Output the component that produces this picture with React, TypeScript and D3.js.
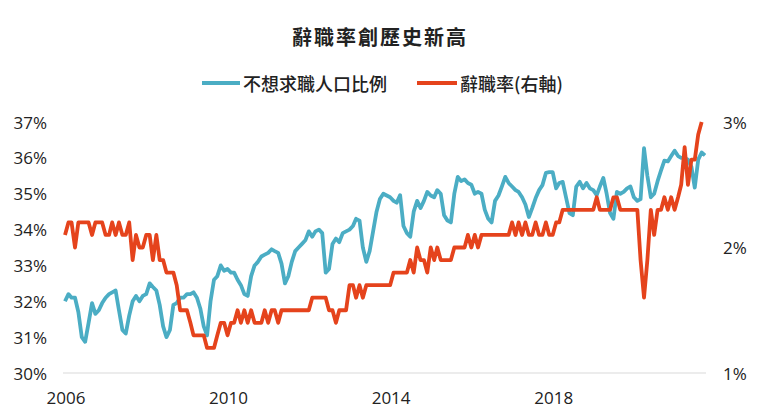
import React from "react";
import * as d3 from "d3";

// chart text
const title = "辭職率創歷史新高";
const seriesNames = ["不想求職人口比例", "辭職率(右軸)"];

// monthly values, Jan 2006 onwards
const startYear = 2006;

// share of people not wanting a job (%), left axis, Jan 2006 - Oct 2021
const notWanting = [
  32.0, 32.2, 32.1, 32.1, 31.7, 31.0, 30.87, 31.4, 31.95, 31.65, 31.75, 31.95,
  32.1, 32.2, 32.25, 32.3, 31.75, 31.2, 31.1, 31.6, 32.0, 32.15, 32.0, 32.15,
  32.2, 32.5, 32.4, 32.3, 31.9, 31.3, 31.0, 31.2, 31.9, 31.95, 32.1, 32.1,
  32.2, 32.2, 32.25, 32.1, 31.8, 31.3, 31.05, 32.0, 32.6, 32.7, 33.0, 32.85,
  32.9, 32.8, 32.8, 32.6, 32.45, 32.2, 32.15, 32.7, 33.0, 33.1, 33.25, 33.3,
  33.35, 33.45, 33.4, 33.35, 33.05, 32.5, 32.7, 33.1, 33.4, 33.5, 33.6, 33.7,
  33.95, 33.8, 33.95, 34.0, 33.9, 32.8, 32.9, 33.6, 33.75, 33.65, 33.9, 33.95,
  34.0, 34.1, 34.3, 34.25, 33.5, 33.1, 33.4, 33.95, 34.5, 34.85, 35.0, 34.95,
  34.9, 34.8, 34.75, 34.96, 34.1, 33.9, 33.8, 34.5, 34.8, 34.6, 34.8, 35.05,
  34.95, 34.9, 35.1, 35.0, 34.4, 34.25, 34.2, 35.0, 35.47, 35.35, 35.4, 35.3,
  35.25, 35.0, 35.05, 35.0, 34.55, 34.3, 34.2, 34.8, 34.95, 35.2, 35.47, 35.3,
  35.2, 35.1, 35.05, 34.9, 34.7, 34.35, 34.6, 34.88, 35.1, 35.24, 35.58, 35.6,
  35.6, 35.15, 35.3, 35.33, 34.9, 34.46, 34.4, 35.2, 35.33, 35.15, 35.3, 35.15,
  35.1, 34.96, 35.2, 35.44, 35.0, 34.46, 34.3, 35.05, 35.0, 35.05, 35.15, 35.2,
  34.9, 34.8, 34.85, 36.27, 35.5, 34.9, 35.0, 35.35, 35.65, 35.92, 35.9, 36.05,
  36.2, 36.05, 36.0, 36.0, 35.95, 35.75, 35.17, 35.95, 36.15, 36.07,
];

// quits rate (%), right axis, Jan 2006 - Sep 2021
const quitsRate = [
  2.1, 2.2, 2.2, 2.0, 2.2, 2.2, 2.2, 2.2, 2.1, 2.2, 2.2, 2.2,
  2.1, 2.1, 2.2, 2.1, 2.2, 2.1, 2.1, 2.2, 1.9, 2.1, 2.0, 2.0,
  2.1, 2.1, 1.9, 2.1, 1.9, 1.9, 1.8, 1.8, 1.8, 1.7, 1.5, 1.5,
  1.5, 1.4, 1.3, 1.3, 1.3, 1.3, 1.2, 1.2, 1.2, 1.3, 1.4, 1.4,
  1.3, 1.4, 1.4, 1.5, 1.4, 1.5, 1.4, 1.5, 1.4, 1.4, 1.4, 1.5,
  1.4, 1.5, 1.5, 1.4, 1.5, 1.5, 1.5, 1.5, 1.5, 1.5, 1.5, 1.5,
  1.5, 1.6, 1.6, 1.6, 1.6, 1.6, 1.5, 1.5, 1.4, 1.5, 1.5, 1.5,
  1.7, 1.7, 1.6, 1.7, 1.6, 1.7, 1.7, 1.7, 1.7, 1.7, 1.7, 1.7,
  1.7, 1.8, 1.8, 1.8, 1.8, 1.8, 1.9, 1.8, 2.0, 1.9, 1.9, 1.8,
  2.0, 1.9, 2.0, 1.9, 1.9, 1.9, 1.9, 2.0, 2.0, 2.0, 2.0, 2.1,
  2.0, 2.1, 2.0, 2.1, 2.1, 2.1, 2.1, 2.1, 2.1, 2.1, 2.1, 2.1,
  2.2, 2.1, 2.2, 2.1, 2.2, 2.1, 2.1, 2.2, 2.1, 2.1, 2.2, 2.1,
  2.1, 2.2, 2.2, 2.3, 2.3, 2.3, 2.3, 2.3, 2.3, 2.3, 2.3, 2.3,
  2.3, 2.4, 2.3, 2.3, 2.3, 2.3, 2.4, 2.4, 2.3, 2.3, 2.3, 2.3,
  2.3, 2.3, 1.9, 1.6, 1.9, 2.3, 2.1, 2.3, 2.3, 2.4, 2.3, 2.4,
  2.3, 2.4, 2.5, 2.8, 2.5, 2.7, 2.7, 2.9, 3.0,
];

// axis ticks
const xTickYears = [2006, 2010, 2014, 2018];
const leftTicks = [30, 31, 32, 33, 34, 35, 36, 37];
const rightTicks = [1, 2, 3];

const BLUE = "#4badc4";
const RED = "#e5431c";
const NUM_FONT = "'Open Sans', 'Noto Sans', sans-serif";
const CJK_FONT = "'Noto Sans CJK TC', 'Noto Sans', sans-serif";

const monthDate = (i: number) => new Date(startYear, i, 1);

const App = () => {
  const width = 760;
  const height = 419;

  const x = d3
    .scaleTime()
    .domain([monthDate(0), monthDate(189)])
    .range([65, 705]);
  const yLeft = d3.scaleLinear().domain([30, 37]).range([373, 122]);
  const yRight = d3.scaleLinear().domain([1, 3]).range([373, 122]);

  const blueLine = d3
    .line<number>()
    .x((_, i) => x(monthDate(i)))
    .y((d) => yLeft(d));
  const redLine = d3
    .line<number>()
    .x((_, i) => x(monthDate(i)))
    .y((d) => yRight(d));

  return (
    <div style={{ position: "absolute", left: 0, top: 0 }}>
      <svg width={width} height={height} style={{ display: "block", background: "#fff" }}>
        {/* title */}
        <text
          x={380}
          y={36}
          textAnchor="middle"
          dominantBaseline="central"
          fontFamily={CJK_FONT}
          fontWeight={700}
          fontSize={20}
          letterSpacing={2}
          fill="#222"
        >
          {title}
        </text>

        {/* legend */}
        <g fontFamily={CJK_FONT} fontSize={18} fontWeight={500} fill="#222">
          <line x1={202} x2={240} y1={83} y2={83} stroke={BLUE} strokeWidth={4} />
          <text x={243} y={83} dominantBaseline="central">
            {seriesNames[0]}
          </text>
          <line x1={417} x2={457} y1={83} y2={83} stroke={RED} strokeWidth={4} />
          <text x={460} y={83} dominantBaseline="central">
            {seriesNames[1]}
          </text>
        </g>

        {/* baseline */}
        <line x1={63} x2={706} y1={373} y2={373} stroke="#d9d9d9" strokeWidth={1} />

        {/* left axis labels */}
        <g fontFamily={NUM_FONT} fontSize={17} fill="#222">
          {leftTicks.map((t) => (
            <text key={"l" + t} x={47} y={yLeft(t)} textAnchor="end" dominantBaseline="central">
              {t + "%"}
            </text>
          ))}
          {rightTicks.map((t) => (
            <text key={"r" + t} x={723} y={yRight(t)} dominantBaseline="central">
              {t + "%"}
            </text>
          ))}
          {xTickYears.map((yr) => (
            <text
              key={"x" + yr}
              x={x(new Date(yr, 0, 1)) + 1}
              y={397}
              textAnchor="middle"
              dominantBaseline="central"
            >
              {yr}
            </text>
          ))}
        </g>

        {/* series */}
        <path
          d={blueLine(notWanting) || ""}
          fill="none"
          stroke={BLUE}
          strokeWidth={3.8}
          strokeLinejoin="round"
        />
        <path
          d={redLine(quitsRate) || ""}
          fill="none"
          stroke={RED}
          strokeWidth={3.8}
          strokeLinejoin="round"
        />
      </svg>
    </div>
  );
};

export default App;
